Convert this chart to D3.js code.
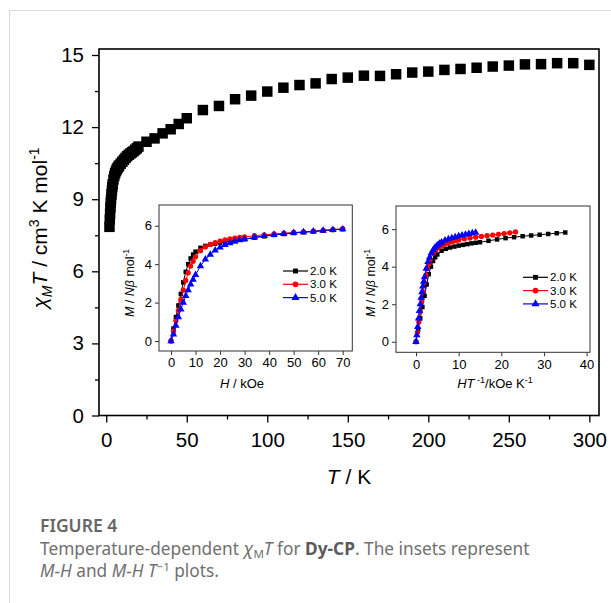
<!DOCTYPE html>
<html>
<head>
<meta charset="utf-8">
<script src="https://cdn.jsdelivr.net/npm/d3@7"></script>
<style>
  body { margin: 0; background: #fff; }
  svg text { font-family: "Liberation Sans", Arial, sans-serif; fill: #000; }
  svg text.cap { font-family: "Noto Sans", "Open Sans", sans-serif; fill: #707070; }
</style>
</head>
<body>
<div id="chart"></div>
<script>
// =============================================
// data
// main plot : chiM T vs T
const tempK = [2, 2.2, 2.4, 2.6, 2.8, 3, 3.25, 3.5, 3.75, 4, 4.5, 5, 5.5, 6, 6.5, 7, 7.5, 8, 9, 10,
               11, 12, 13, 14, 15, 16, 17, 18, 19, 20, 25, 30, 35, 40, 45, 50,
               60, 70, 80, 90, 100, 110, 120, 130, 140, 150, 160, 170, 180, 190, 200,
               210, 220, 230, 240, 250, 260, 270, 280, 290, 300];
const chiT  = [7.85, 8.15, 8.4, 8.65, 8.85, 9.0, 9.2, 9.35, 9.5, 9.62, 9.82, 9.97, 10.08, 10.17, 10.24, 10.3, 10.35, 10.4, 10.48, 10.56,
               10.64, 10.72, 10.79, 10.85, 10.9, 10.95, 11.0, 11.06, 11.12, 11.19, 11.39, 11.53, 11.74, 11.91, 12.13, 12.37,
               12.71, 12.88, 13.16, 13.31, 13.48, 13.64, 13.75, 13.82, 14.0, 14.06, 14.14, 14.13, 14.2, 14.27, 14.31,
               14.38, 14.42, 14.47, 14.52, 14.56, 14.61, 14.62, 14.66, 14.66, 14.59];

// insets : M vs H and M vs H/T
const fieldH = [0, 1, 2, 3, 4, 5, 6, 7, 8, 9, 10, 12, 14, 16, 18, 20, 22, 24, 26, 28,
                30, 34, 38, 42, 46, 50, 54, 58, 62, 66, 70];
const mag2K = [0, 0.65, 1.25, 1.85, 2.45, 3.05, 3.6, 4.0, 4.3, 4.5, 4.65, 4.85, 4.95, 5.02, 5.07, 5.12, 5.16, 5.2, 5.24, 5.27,
               5.3, 5.38, 5.45, 5.52, 5.57, 5.62, 5.66, 5.7, 5.74, 5.78, 5.82];
const mag3K = [0, 0.5, 1.05, 1.6, 2.15, 2.65, 3.15, 3.55, 3.9, 4.15, 4.38, 4.7, 4.9, 5.03, 5.12, 5.2, 5.26, 5.31, 5.35, 5.39,
               5.42, 5.48, 5.53, 5.57, 5.61, 5.65, 5.68, 5.72, 5.76, 5.8, 5.85];
const mag5K = [0, 0.35, 0.8, 1.25, 1.65, 2.0, 2.35, 2.65, 2.95, 3.2, 3.45, 3.9, 4.25, 4.5, 4.72, 4.88, 5.0, 5.1, 5.18, 5.25,
               5.3, 5.4, 5.47, 5.53, 5.58, 5.63, 5.67, 5.71, 5.75, 5.79, 5.82];
const seriesTemp  = [2, 3, 5];
const seriesNames = ['2.0 K', '3.0 K', '5.0 K'];
const seriesColor = ['#000000', '#ff0000', '#0000ff'];

// tick labels
const mainXTicks  = [0, 50, 100, 150, 200, 250, 300];
const mainXMinor  = [25, 75, 125, 175, 225, 275];
const mainYTicks  = [0, 3, 6, 9, 12, 15];
const mainYMinor  = [1.5, 4.5, 7.5, 10.5, 13.5];
const inset1XTicks = [0, 10, 20, 30, 40, 50, 60, 70];
const inset2XTicks = [0, 10, 20, 30, 40];
const insetYTicks  = [0, 2, 4, 6];

// =============================================
// canvas
const W = 611, H = 603;
const svg = d3.select('#chart').append('svg')
              .attr('width', W).attr('height', H);

svg.append('rect').attr('width', W).attr('height', H).attr('fill', '#fff');
// card border
svg.append('rect')
   .attr('x', 9.5).attr('y', 10.5).attr('width', 640).attr('height', 640)
   .attr('fill', 'none').attr('stroke', '#d9d9d9').attr('stroke-width', 1);

// =============================================
// main plot
const box = { l: 99, r: 599, t: 49, b: 415.5 };
const x = d3.scaleLinear().domain([-4.5, 306]).range([box.l, box.r]);
const y = d3.scaleLinear().domain([0, 15.25]).range([box.b, box.t]);

const main = svg.append('g');

function styleAxis(g, fs) {
  g.select('.domain').remove();
  g.selectAll('line').attr('stroke', '#000').attr('stroke-width', 1.3);
  g.selectAll('text').attr('font-size', fs).attr('fill', '#000')
   .attr('font-family', '"Liberation Sans", Arial, sans-serif');
}

main.append('g').attr('transform', `translate(0,${box.b})`)
    .call(d3.axisBottom(x).tickValues(mainXTicks).tickSize(7).tickPadding(10))
    .call(g => styleAxis(g, 20.5));
main.append('g').attr('transform', `translate(0,${box.b})`)
    .call(d3.axisBottom(x).tickValues(mainXMinor).tickSize(4).tickFormat(''))
    .call(g => styleAxis(g, 20.5));
main.append('g').attr('transform', `translate(${box.l},0)`)
    .call(d3.axisLeft(y).tickValues(mainYTicks).tickSize(7).tickPadding(8))
    .call(g => styleAxis(g, 20.5));
main.append('g').attr('transform', `translate(${box.l},0)`)
    .call(d3.axisLeft(y).tickValues(mainYMinor).tickSize(4).tickFormat(''))
    .call(g => styleAxis(g, 20.5));

main.append('rect')
    .attr('x', box.l).attr('y', box.t)
    .attr('width', box.r - box.l).attr('height', box.b - box.t)
    .attr('fill', 'none').attr('stroke', '#000').attr('stroke-width', 1.6);

const mainPts = tempK.map((t, i) => [t, chiT[i]]);
main.append('g').selectAll('path')
    .data(mainPts).enter().append('path')
    .attr('transform', d => `translate(${x(d[0])},${y(d[1])})`)
    .attr('d', d3.symbol(d3.symbolSquare, 110))
    .attr('fill', '#000');

// axis titles
const xt = main.append('text')
    .attr('x', 349).attr('y', 484)
    .attr('text-anchor', 'middle').attr('font-size', 21);
xt.append('tspan').attr('font-style', 'italic').text('T');
xt.append('tspan').text(' / K');

const yt = main.append('text')
    .attr('transform', 'translate(47,228) rotate(-90)')
    .attr('text-anchor', 'middle').attr('font-size', 21);
yt.append('tspan').attr('font-style', 'italic').text('χ');
yt.append('tspan').attr('font-style', 'italic').attr('font-size', 14).attr('dy', 5).text('M');
yt.append('tspan').attr('font-style', 'italic').attr('dy', -5).text('T');
yt.append('tspan').text(' / cm');
yt.append('tspan').attr('font-size', 14).attr('dy', -8).text('3');
yt.append('tspan').attr('dy', 8).text(' K mol');
yt.append('tspan').attr('font-size', 14).attr('dy', -8).text('-1');

// =============================================
// insets
function drawInset(opt) {
  const g = svg.append('g');
  const xs = d3.scaleLinear().domain(opt.xDom).range([opt.l, opt.r]);
  const ys = d3.scaleLinear().domain(opt.yDom).range([opt.b, opt.t]);

  g.append('rect')
   .attr('x', opt.l).attr('y', opt.t)
   .attr('width', opt.r - opt.l).attr('height', opt.b - opt.t)
   .attr('fill', '#fff').attr('stroke', '#333').attr('stroke-width', 1);

  g.append('g').attr('transform', `translate(0,${opt.b})`)
   .call(d3.axisBottom(xs).tickValues(opt.xTicks).tickSize(4).tickPadding(3))
   .call(a => styleAxis(a, 13));
  g.append('g').attr('transform', `translate(${opt.l},0)`)
   .call(d3.axisLeft(ys).tickValues(insetYTicks).tickSize(4).tickPadding(3))
   .call(a => styleAxis(a, 13));
  g.selectAll('line').attr('stroke-width', 1).attr('stroke', '#333');

  const mags = [mag2K, mag3K, mag5K];
  const shapes = [d3.symbolSquare, d3.symbolCircle, d3.symbolTriangle];
  const sizes = [20, 22, 24];
  const line = d3.line().x(d => xs(d[0])).y(d => ys(d[1]));

  mags.forEach((m, k) => {
    const pts = fieldH.map((h, i) => [opt.xOf(h, seriesTemp[k]), m[i]]);
    g.append('path').datum(pts)
     .attr('d', line).attr('fill', 'none')
     .attr('stroke', seriesColor[k]).attr('stroke-width', 1);
    g.append('g').selectAll('path')
     .data(pts).enter().append('path')
     .attr('transform', d => `translate(${xs(d[0])},${ys(d[1])})`)
     .attr('d', d3.symbol(shapes[k], sizes[k]))
     .attr('fill', seriesColor[k]);

    // legend row
    const ly = opt.legY + k * 13.3;
    g.append('line')
     .attr('x1', opt.legX).attr('x2', opt.legX + 25)
     .attr('y1', ly).attr('y2', ly)
     .attr('stroke', seriesColor[k]).attr('stroke-width', 1.2);
    g.append('path')
     .attr('transform', `translate(${opt.legX + 12.5},${ly})`)
     .attr('d', d3.symbol(shapes[k], sizes[k] + 4))
     .attr('fill', seriesColor[k]);
    g.append('text')
     .attr('x', opt.legX + 27).attr('y', ly + 4)
     .attr('font-size', 11.5).text(seriesNames[k]);
  });

  // y title
  const t = g.append('text')
   .attr('transform', `translate(${opt.yTitleX},283) rotate(-90)`)
   .attr('text-anchor', 'middle').attr('font-size', 12.5);
  t.append('tspan').attr('font-style', 'italic').text('M');
  t.append('tspan').text(' / ');
  t.append('tspan').attr('font-style', 'italic').text('Nβ');
  t.append('tspan').text(' mol');
  t.append('tspan').attr('font-size', 8.5).attr('dy', -5).text('-1');

  // x title
  opt.xTitle(g.append('text')
   .attr('x', opt.xTitleX).attr('y', 388)
   .attr('text-anchor', 'middle').attr('font-size', 13));
}

drawInset({
  l: 159, r: 352.3, t: 205, b: 351,
  xDom: [-4.9, 73.9], yDom: [-0.52, 7.08],
  xTicks: inset1XTicks,
  xOf: (h, T) => h,
  legX: 283, legY: 271,
  yTitleX: 134, xTitleX: 242,
  xTitle: t => {
    t.append('tspan').attr('font-style', 'italic').text('H');
    t.append('tspan').text(' / kOe');
  }
});

drawInset({
  l: 396, r: 590, t: 206, b: 352.3,
  xDom: [-4.69, 40.8], yDom: [-0.56, 7.23],
  xTicks: inset2XTicks,
  xOf: (h, T) => h / T,
  legX: 523, legY: 277.3,
  yTitleX: 375, xTitleX: 495,
  xTitle: t => {
    t.append('tspan').attr('font-style', 'italic').text('HT');
    t.append('tspan').attr('font-size', 9).attr('dy', -5).text(' -1');
    t.append('tspan').attr('dy', 5).text('/kOe K');
    t.append('tspan').attr('font-size', 9).attr('dy', -5).text('-1');
  }
});

// =============================================
// caption
svg.append('text').attr('class', 'cap')
   .attr('x', 40).attr('y', 532)
   .attr('font-size', 17.5).attr('font-weight', 600)
   .style('fill', '#666').text('FIGURE 4');

const c1 = svg.append('text').attr('class', 'cap')
   .attr('x', 40).attr('y', 555).attr('font-size', 17.3);
c1.append('tspan').text('Temperature-dependent ');
c1.append('tspan').attr('font-style', 'italic').text('χ');
c1.append('tspan').attr('font-size', 11.5).attr('dy', 3).text('M');
c1.append('tspan').attr('font-style', 'italic').attr('dy', -3).text('T');
c1.append('tspan').text(' for ');
c1.append('tspan').attr('font-weight', 'bold').style('fill', '#5a5a5a').text('Dy-CP');
c1.append('tspan').text('. The insets represent');

const c2 = svg.append('text').attr('class', 'cap')
   .attr('x', 40).attr('y', 577).attr('font-size', 17.3);
c2.append('tspan').attr('font-style', 'italic').text('M-H');
c2.append('tspan').text(' and ');
c2.append('tspan').attr('font-style', 'italic').text('M-H T');
c2.append('tspan').attr('font-size', 11.5).attr('dy', -6).text('−1');
c2.append('tspan').attr('dy', 6).text(' plots.');
</script>
</body>
</html>
